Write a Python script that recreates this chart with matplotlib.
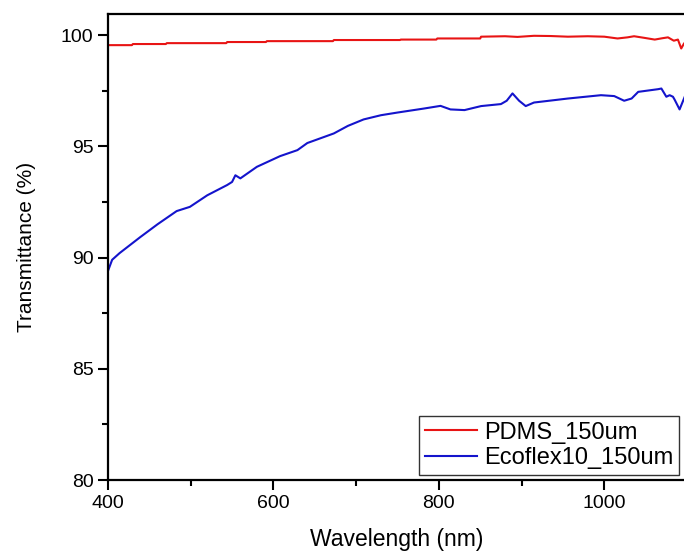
import numpy as np
import matplotlib
matplotlib.use("Agg")
import matplotlib.pyplot as plt
from matplotlib.ticker import MultipleLocator

plt.rcParams['font.family'] = ['Liberation Sans', 'DejaVu Sans']

# PDMS_150um (red)
pdms_wl = [400, 429, 430, 470, 471, 543, 544, 591, 592, 672, 673, 753, 754, 797, 798,
           850, 851, 880, 895, 915, 935, 956, 980, 1000, 1016, 1028, 1036, 1048, 1061,
           1070, 1077, 1084, 1089, 1093, 1096, 1098]
pdms_t = [99.55, 99.55, 99.6, 99.6, 99.64, 99.64, 99.69, 99.69, 99.73, 99.73, 99.78,
          99.78, 99.8, 99.8, 99.85, 99.85, 99.93, 99.95, 99.92, 99.97, 99.96, 99.93,
          99.95, 99.93, 99.85, 99.9, 99.95, 99.88, 99.8, 99.86, 99.9, 99.75, 99.8,
          99.4, 99.6, 99.7]

# Ecoflex10_150um (blue)
eco_wl = [400, 405, 414, 439, 460, 483, 499, 520, 544, 550, 554, 560, 580, 608, 629,
          641, 673, 690, 709, 730, 750, 782, 802, 814, 831, 851, 875, 882, 889, 897,
          905, 915, 956, 996, 1012, 1024, 1033, 1041, 1065, 1069, 1075, 1079, 1083,
          1085, 1091, 1098]
eco_t = [89.4, 89.9, 90.2, 90.92, 91.5, 92.09, 92.28, 92.8, 93.26, 93.4, 93.7, 93.56,
         94.08, 94.56, 94.83, 95.15, 95.58, 95.92, 96.21, 96.4, 96.52, 96.7, 96.82,
         96.66, 96.63, 96.81, 96.9, 97.05, 97.38, 97.05, 96.81, 96.97, 97.15, 97.3,
         97.26, 97.05, 97.15, 97.45, 97.57, 97.6, 97.23, 97.3, 97.23, 97.1, 96.66, 97.3]

fig = plt.figure(figsize=(6.84, 5.56), dpi=100)
ax = fig.add_axes([108/684, 76/556, 1 - 108/684 + 0.002, (480 - 14)/556])

ax.plot(pdms_wl, pdms_t, color='#e81414', lw=1.5, label='PDMS_150um')
ax.plot(eco_wl, eco_t, color='#1414cc', lw=1.5, label='Ecoflex10_150um')

ax.set_xlim(400, 1098)
ax.set_ylim(80, 100.95)
ax.xaxis.set_major_locator(MultipleLocator(200))
ax.xaxis.set_minor_locator(MultipleLocator(100))
ax.yaxis.set_major_locator(MultipleLocator(5))
ax.yaxis.set_minor_locator(MultipleLocator(2.5))

for s in ['left', 'bottom', 'top']:
    ax.spines[s].set_linewidth(1.6)
ax.spines['right'].set_visible(False)
ax.tick_params(which='major', direction='out', length=7, width=1.5, labelsize=14)
ax.tick_params(which='minor', direction='out', length=4, width=1.5)
ax.tick_params(top=False, right=False, which='both')

ax.set_xlabel('Wavelength (nm)', fontsize=16.5, labelpad=12)
ax.set_ylabel('Transmittance (%)', fontsize=15, labelpad=18)

leg = ax.legend(loc='lower right', bbox_to_anchor=(679/684, 81/556),
                bbox_transform=fig.transFigure, borderaxespad=0, fontsize=17,
                fancybox=False, framealpha=1, edgecolor='#333333',
                handlelength=2.2, handletextpad=0.3, borderpad=0.25,
                labelspacing=0.15)
leg.get_frame().set_linewidth(1.0)

fig.savefig('out.png', dpi=100)
